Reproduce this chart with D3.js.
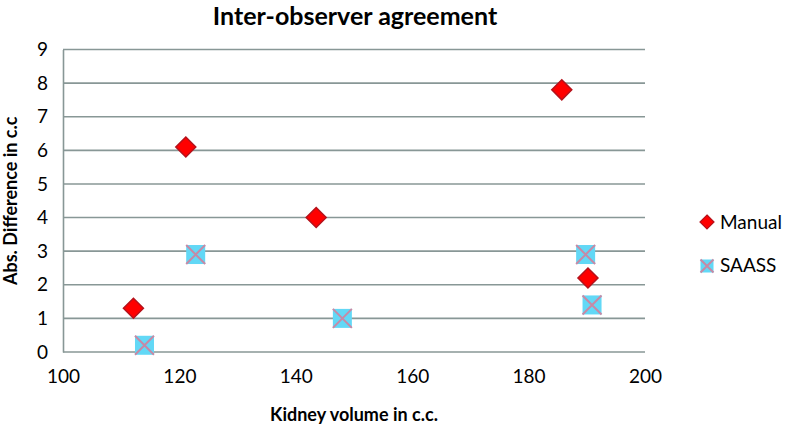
<!DOCTYPE html>
<html>
<head>
<meta charset="utf-8">
<script src="https://cdn.jsdelivr.net/npm/d3@7"></script>
<style>
  html, body { margin: 0; padding: 0; background: #fff; }
  svg { display: block; }
  text { font-family: Lato, "Open Sans", sans-serif; fill: #000; }
</style>
</head>
<body>
<svg id="chart" width="793" height="426"></svg>
<script>
// ---- data ----
const manualX = [112.1, 121.1, 143.5, 185.7, 190.2];
const manualY = [1.3, 6.1, 4.0, 7.8, 2.2];
const saassX = [114.0, 122.8, 148.0, 189.8, 190.9];
const saassY = [0.2, 2.9, 1.0, 2.9, 1.4];
const xTicks = [100, 120, 140, 160, 180, 200];
const yTicks = [0, 1, 2, 3, 4, 5, 6, 7, 8, 9];
const seriesNames = ["Manual", "SAASS"];
const titleText = "Inter-observer agreement";
const xTitle = "Kidney volume in c.c.";
const yTitle = "Abs. Difference in c.c";

// ---- layout ----
const svg = d3.select("#chart");
const plotL = 63, plotR = 645, plotT = 49.5, plotB = 352;
const x = d3.scaleLinear().domain([100, 200]).range([plotL, plotR]);
const y = d3.scaleLinear().domain([0, 9]).range([plotB, plotT]);
const gridColor = "#889796";

// gridlines
svg.append("g").selectAll("line").data(yTicks).join("line")
  .attr("x1", plotL).attr("x2", plotR)
  .attr("y1", d => y(d)).attr("y2", d => y(d))
  .attr("stroke", gridColor).attr("stroke-width", 1.6);

// axes
const yAxis = d3.axisLeft(y).tickValues(yTicks).tickSize(0).tickPadding(15).tickFormat(d3.format("d"));
const gy = svg.append("g").attr("transform", `translate(${plotL},0)`).call(yAxis);
gy.select(".domain").attr("stroke", gridColor).attr("stroke-width", 1.6);
gy.selectAll("text").style("font-size", "19px").style("font-family", "Lato, 'Open Sans', sans-serif").attr("fill", "#000");

const xAxis = d3.axisBottom(x).tickValues(xTicks).tickSize(0).tickPadding(18).tickFormat(d3.format("d"));
const gx = svg.append("g").attr("transform", `translate(0,${plotB})`).call(xAxis);
gx.select(".domain").remove();
gx.selectAll("text").style("font-size", "19px").style("font-family", "Lato, 'Open Sans', sans-serif").attr("fill", "#000");

// titles
svg.append("text").attr("x", 355).attr("y", 25).attr("text-anchor", "middle")
  .style("font-size", "25px").style("font-weight", "bold").text(titleText);
svg.append("text").attr("x", 354).attr("y", 421).attr("text-anchor", "middle")
  .style("font-size", "18px").style("font-weight", "bold").text(xTitle);
svg.append("text").attr("transform", `translate(17,${(plotT + plotB) / 2}) rotate(-90)`)
  .attr("text-anchor", "middle")
  .style("font-size", "18px").style("font-weight", "bold").text(yTitle);

// marker shapes
function diamond(r) { return `M0,${-r}L${r},0L0,${r}L${-r},0Z`; }
function drawSaass(g, h) {
  g.append("rect").attr("x", -h).attr("y", -h).attr("width", 2 * h).attr("height", 2 * h)
    .attr("fill", "#62d8f6");
  g.append("path").attr("d", `M${-h},${-h}L${h},${h}M${h},${-h}L${-h},${h}`)
    .attr("stroke", "#c68aa6").attr("stroke-width", 2);
}

const manualData = manualX.map((v, i) => ({ x: v, y: manualY[i] }));
const saassData = saassX.map((v, i) => ({ x: v, y: saassY[i] }));

svg.append("g").selectAll("path").data(manualData).join("path")
  .attr("transform", d => `translate(${x(d.x)},${y(d.y)})`)
  .attr("d", diamond(10))
  .attr("fill", "#ff0000").attr("stroke", "#b5121b").attr("stroke-width", 1.5);

svg.append("g").selectAll("g").data(saassData).join("g")
  .attr("transform", d => `translate(${x(d.x)},${y(d.y)})`)
  .each(function () { drawSaass(d3.select(this), 9.5); });

// legend
const lg = svg.append("g");
const l1 = lg.append("g").attr("transform", "translate(707,222)");
l1.append("path").attr("d", diamond(7)).attr("fill", "#ff0000").attr("stroke", "#b5121b").attr("stroke-width", 1.2);
lg.append("text").attr("x", 720).attr("y", 229).style("font-size", "19px").text(seriesNames[0]);
const l2 = lg.append("g").attr("transform", "translate(707,266)");
drawSaass(l2, 6.5);
lg.append("text").attr("x", 720).attr("y", 272).style("font-size", "19px").text(seriesNames[1]);
</script>
</body>
</html>
